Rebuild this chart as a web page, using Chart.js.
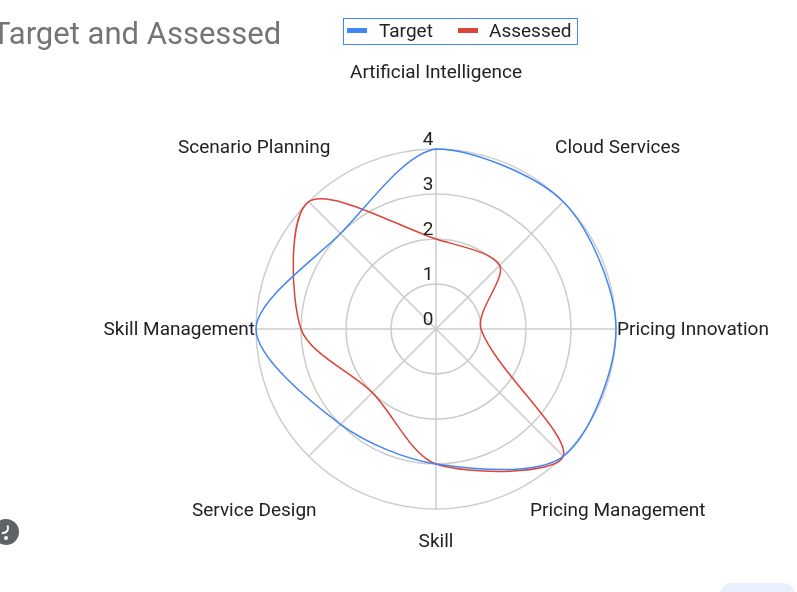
<!DOCTYPE html>
<html>
<head>
<meta charset="utf-8">
<script src="https://cdn.jsdelivr.net/npm/chart.js@4.4.1/dist/chart.umd.min.js"></script>
<style>
  html, body { margin: 0; padding: 0; background: #ffffff; }
  #wrap { width: 797px; height: 592px; position: relative; }
</style>
</head>
<body>
<div id="wrap"><canvas id="c" width="797" height="592"></canvas></div>
<script>
const chartTitle = 'Target and Assessed';
const categories = ['Artificial Intelligence', 'Cloud Services', 'Pricing Innovation', 'Pricing Management', 'Skill', 'Service Design', 'Skill Management', 'Scenario Planning'];
const targetValues = [4, 4, 4, 4, 3, 3, 4, 3];
const assessedValues = [2, 2, 1, 4, 3, 2, 3, 4];
const tickLabels = [0, 1, 2, 3, 4];
const seriesNames = ['Target', 'Assessed'];
const seriesColors = ['#4285f4', '#db4437'];

const FONT = 'Roboto, "Noto Sans", Arial, sans-serif';

const overlayPlugin = {
  id: 'overlay',
  afterDraw(chart) {
    const ctx = chart.ctx;
    const scale = chart.scales.r;
    ctx.save();

    // Title
    ctx.font = '31px ' + FONT;
    ctx.fillStyle = '#757575';
    ctx.textAlign = 'left';
    ctx.textBaseline = 'alphabetic';
    ctx.fillText(chartTitle, -8, 44);

    // Legend box
    ctx.strokeStyle = '#4285f4';
    ctx.lineWidth = 1;
    ctx.strokeRect(343.5, 18.5, 234, 26);
    ctx.font = '19px ' + FONT;
    ctx.textBaseline = 'middle';
    const items = [
      { sx: 347, tx: 379 },
      { sx: 458, tx: 489 }
    ];
    chart.data.datasets.forEach((ds, i) => {
      ctx.fillStyle = ds.borderColor;
      ctx.fillRect(items[i].sx, 28, 20, 5);
      ctx.fillStyle = '#222222';
      ctx.fillText(ds.label, items[i].tx, 32);
    });

    // Point labels
    ctx.fillStyle = '#222222';
    ctx.font = '19px ' + FONT;
    ctx.textBaseline = 'middle';
    const outer = scale.drawingArea;
    chart.data.labels.forEach((lab, i) => {
      const p0 = scale.getPointPosition(i, 100);
      const dx = (p0.x - scale.xCenter) / 100;
      const dy = (p0.y - scale.yCenter) / 100;
      let dist, align;
      if (Math.abs(dy) < 0.01) {
        dist = outer + 1;
        align = dx > 0 ? 'left' : 'right';
      } else if (Math.abs(dx) < 0.01 && dy > 0) {
        dist = outer + 32;
        align = 'center';
      } else {
        dist = outer + 77;
        align = 'center';
      }
      const p = scale.getPointPosition(i, dist);
      ctx.textAlign = align;
      ctx.fillText(lab, p.x, p.y + 1);
    });

    // Tick labels
    ctx.textAlign = 'center';
    ctx.textBaseline = 'middle';
    ctx.fillStyle = '#222222';
    tickLabels.forEach(v => {
      const d = scale.getDistanceFromCenterForValue(v);
      ctx.fillText(String(v), scale.xCenter - 8, scale.yCenter - d - 9);
    });

    // UI decorations
    ctx.fillStyle = '#5f6368';
    ctx.beginPath();
    ctx.arc(6, 532, 13, 0, Math.PI * 2);
    ctx.fill();
    ctx.strokeStyle = '#ffffff';
    ctx.lineWidth = 2;
    ctx.beginPath();
    ctx.arc(3, 528, 5, -0.5, 1.8);
    ctx.stroke();
    ctx.fillStyle = '#ffffff';
    ctx.beginPath();
    ctx.arc(6, 538, 2, 0, Math.PI * 2);
    ctx.fill();
    ctx.fillStyle = '#e8f0fe';
    ctx.beginPath();
    if (ctx.roundRect) { ctx.roundRect(720, 583, 75, 24, 12); } else { ctx.rect(720, 583, 75, 24); }
    ctx.fill();

    ctx.restore();
  }
};

new Chart(document.getElementById('c'), {
  type: 'radar',
  data: {
    labels: categories,
    datasets: [
      {
        label: seriesNames[0],
        data: targetValues,
        borderColor: seriesColors[0],
        backgroundColor: 'transparent',
        borderWidth: 1.5,
        pointRadius: 0,
        pointHoverRadius: 0,
        fill: false,
        tension: 0.3
      },
      {
        label: seriesNames[1],
        data: assessedValues,
        borderColor: seriesColors[1],
        backgroundColor: 'transparent',
        borderWidth: 1.5,
        pointRadius: 0,
        pointHoverRadius: 0,
        fill: false,
        tension: 0.3
      }
    ]
  },
  options: {
    responsive: false,
    animation: false,
    devicePixelRatio: 1,
    layout: { padding: { left: 256, right: 181, top: 149, bottom: 83 } },
    plugins: {
      legend: { display: false },
      title: { display: false },
      tooltip: { enabled: false }
    },
    scales: {
      r: {
        min: 0,
        max: 4,
        ticks: { display: false, stepSize: 1 },
        pointLabels: { display: false },
        grid: { circular: true, color: '#cccccc', lineWidth: 1.5 },
        angleLines: { display: true, color: '#cccccc', lineWidth: 1.5 }
      }
    }
  },
  plugins: [overlayPlugin]
});
</script>
</body>
</html>
